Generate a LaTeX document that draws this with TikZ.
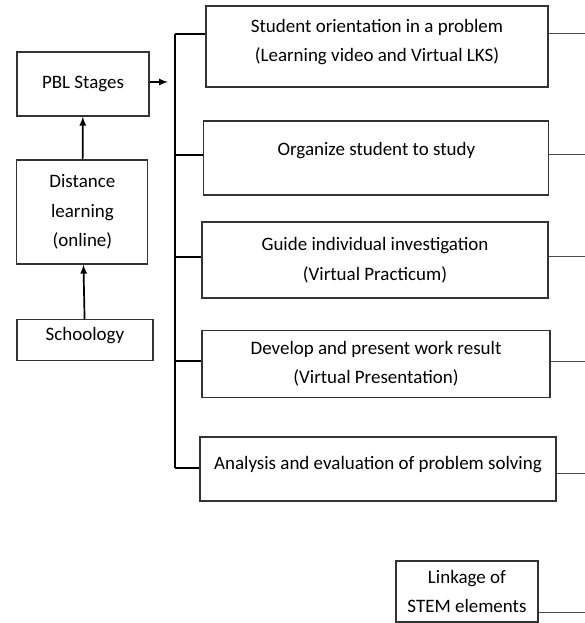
\documentclass[tikz,border=0pt]{standalone}
\usepackage{fontspec}
\setmainfont{Carlito}
\usepackage{tikz}

\begin{document}
\begin{tikzpicture}[>=latex, font=\fontsize{13.5}{21}\selectfont,
    box/.style={draw=black!80, line width=0.8pt, rectangle, align=center, inner sep=0pt},
    bus/.style={line width=1.2pt},
    stub/.style={draw=black!70, line width=0.6pt}]
            \useasboundingbox (0,0) rectangle (14.625,-15.575);

            \node [box, minimum width=3.3cm, minimum height=1.6cm] (pbl) at (2.075,-2.1) {PBL Stages};
            \node [box, minimum width=3.275cm, minimum height=2.6cm] (distance) at (2.06,-5.3) {Distance\\learning\\(online)};
            \node [box, minimum width=3.4cm, minimum height=1.025cm, text depth=0.3cm] (schoology) at (2.125,-8.51) {Schoology};

            \node [box, minimum width=8.55cm, minimum height=2.025cm, text depth=0.3cm] (orient) at (9.425,-1.1625) {Student orientation in a problem\\(Learning video and Virtual LKS)};
            \node [box, minimum width=8.625cm, minimum height=1.85cm, text depth=0.45cm] (organize) at (9.41,-3.95) {Organize student to study};
            \node [box, minimum width=8.65cm, minimum height=1.9cm] (guide) at (9.375,-6.5) {Guide individual investigation\\(Virtual Practicum)};
            \node [box, minimum width=8.7cm, minimum height=1.675cm] (develop) at (9.4,-9.09) {Develop and present work result\\(Virtual Presentation)};
            \node [box, minimum width=8.9cm, minimum height=1.6cm, text depth=0.3cm] (analysis) at (9.45,-11.725) {Analysis and evaluation of problem solving};
            \node [box, minimum width=3.55cm, minimum height=1.525cm] (linkage) at (11.675,-14.7875) {Linkage of\\STEM elements};

            % bus on the left of the stages
            \coordinate (b1) at (4.375,-0.85);
            \coordinate (b2) at (4.375,-3.875);
            \coordinate (b3) at (4.375,-6.425);
            \coordinate (b4) at (4.375,-9.025);
            \coordinate (b5) at (4.375,-11.7);
            \coordinate (tip) at (4.2,-2.05);

            % free ends at the right edge
            \coordinate (r1) at (14.625,-0.825);
            \coordinate (r2) at (14.625,-3.85);
            \coordinate (r3) at (14.625,-6.4);
            \coordinate (r4) at (14.625,-9.025);
            \coordinate (r5) at (14.625,-11.825);
            \coordinate (r6) at (14.625,-15.3);

            \draw[->, line width=1.2pt] (schoology) -- (distance);
            \draw[->, line width=1.2pt] (distance) -- (pbl);
            \draw[->, line width=1.2pt] (pbl.east |- tip) -- (tip);

            \draw[bus] (b1) -- (b5);
            \draw[bus] (b1) -- (b1 -| orient.west);
            \draw[bus] (b2) -- (b2 -| organize.west);
            \draw[bus] (b3) -- (b3 -| guide.west);
            \draw[bus] (b4) -- (b4 -| develop.west);
            \draw[bus] (b5) -- (b5 -| analysis.west);

            \draw[stub] (orient.east |- r1) -- (r1);
            \draw[stub] (organize.east |- r2) -- (r2);
            \draw[stub] (guide.east |- r3) -- (r3);
            \draw[stub] (develop.east |- r4) -- (r4);
            \draw[stub] (analysis.east |- r5) -- (r5);
            \draw[stub] (linkage.east |- r6) -- (r6);
        \end{tikzpicture}
\end{document}
